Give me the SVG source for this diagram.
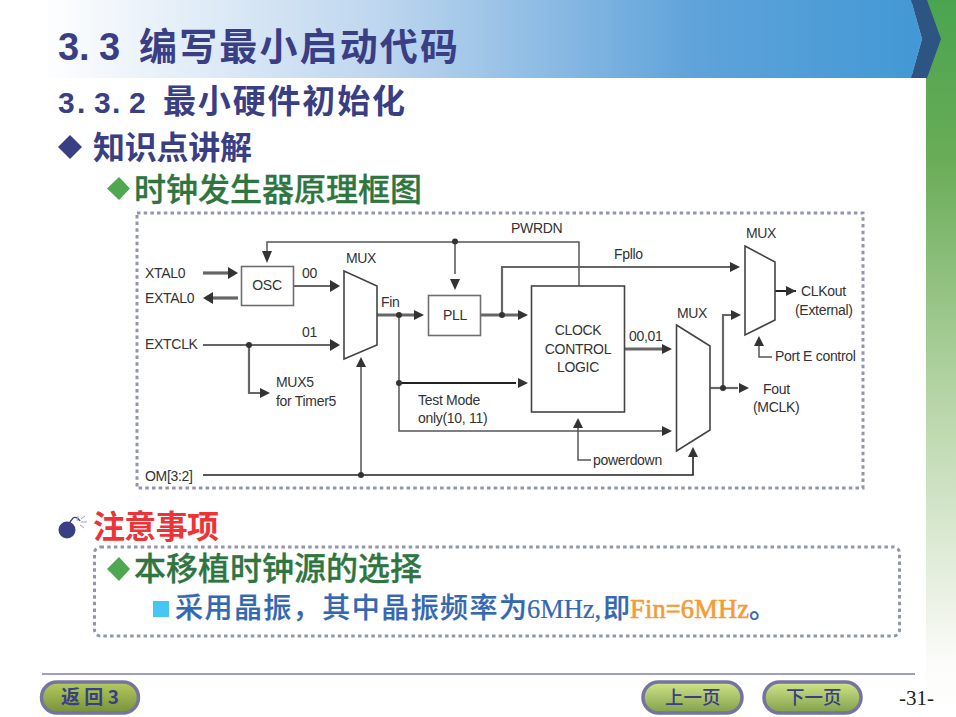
<svg xmlns="http://www.w3.org/2000/svg" width="956" height="717" viewBox="0 0 956 717">
<style>
.cjk{font-family:"Noto Sans CJK SC","Noto Sans",sans-serif;font-weight:700}
.med{font-weight:500}
.num{font-family:"Liberation Sans",Arial,sans-serif;font-weight:700}
.mono{font-family:"Liberation Serif","Times New Roman",serif;font-size:26.500px;stroke-width:.6px}
.navy{fill:#3a3f85}.green{fill:#2f7540;stroke:#2f7540;stroke-width:.3px}.red{fill:#ee3338}.blue{fill:#3468b0;stroke:#3468b0;stroke-width:.2px}.orange{fill:#f59a35;stroke:#f59a35}
.lbl{font-family:"Liberation Sans",Arial,sans-serif;font-size:14px;fill:#333;letter-spacing:-.3px}
.box{fill:#fff;stroke:#6e6e6e;stroke-width:1.6}
.thin{fill:none;stroke:#555;stroke-width:1.5}
.mid{fill:none;stroke:#666;stroke-width:2.2}
.thick{fill:none;stroke:#666;stroke-width:3.2}
.blk{fill:none;stroke:#222;stroke-width:2}
.ah{fill:#333}.dot{fill:#333}
.btn{stroke:#74749f;stroke-width:3.5}
.dash{fill:none;stroke:#9196ae;stroke-width:3;stroke-dasharray:3.5 3.2}
</style>
<defs>
<linearGradient id="banner" x1="0" x2="1" y1="0" y2="0"><stop offset="0" stop-color="#fff"/><stop offset=".4" stop-color="#bcd5ee"/><stop offset=".75" stop-color="#5fa3da"/><stop offset="1" stop-color="#4399d5"/></linearGradient>
<linearGradient id="band" x1="0" x2="0" y1="0" y2="1"><stop offset="0" stop-color="#4aa44f"/><stop offset=".22" stop-color="#69ac57"/><stop offset=".55" stop-color="#b5d4a5"/><stop offset=".92" stop-color="#fbfbf8"/><stop offset="1" stop-color="#fff"/></linearGradient>
<linearGradient id="btn1" x1="0" x2="0" y1="0" y2="1"><stop offset="0" stop-color="#b6cb5e"/><stop offset="1" stop-color="#76913a"/></linearGradient>
<linearGradient id="btn2" x1="0" x2="0" y1="0" y2="1"><stop offset="0" stop-color="#d2e58a"/><stop offset="1" stop-color="#80a04a"/></linearGradient>
</defs>
<rect width="956" height="717" fill="#fff"/>
<rect x="926" y="0" width="30" height="717" fill="url(#band)"/>
<rect x="40" y="0" width="872" height="78" fill="url(#banner)"/>
<polygon points="911,0 922,39 911,78" fill="#4399d5"/>
<polygon points="911,0 922,39 911,78 927,78 941,39 927,0" fill="#2c5583"/>

<g id="headings">
<text class="num navy" x="58 79 99" y="60" font-size="38">3.3</text>
<text class="cjk navy" x="139" y="60" font-size="38" textLength="319">编写最小启动代码</text>
<text class="num navy" x="58 77 94 112 129" y="113" font-size="30">3.3.2</text>
<text class="cjk navy" x="163" y="113" font-size="33" textLength="242">最小硬件初始化</text>
<polygon class="navy" points="70,135 82,147 70,159 58,147"/>
<text class="cjk navy" x="93" y="159" font-size="32" textLength="159">知识点讲解</text>
<polygon fill="#4fa74f" points="119,177 130,188.500 119,200 107,188.500"/>
<text class="cjk med green" x="134" y="201" font-size="32" textLength="288">时钟发生器原理框图</text>
</g>

<rect x="137" y="213" width="726" height="275" class="dash"/>

<g id="connectors">
<path class="thin" d="M579 286V242H267V254"/>
<path class="thin" d="M455 242V274"/>
<path class="thick" d="M203 273H228"/>
<path class="thick" d="M238 298H213"/>
<path class="mid" d="M293 286H332"/>
<path class="mid" d="M203 345H332"/>
<path class="mid" d="M249 345V393H262"/>
<path class="thick" d="M377 315H416"/>
<path class="thin" d="M399 315V431H662"/>
<path class="blk" d="M399 383H516"/>
<path class="thick" d="M481 315H518"/>
<path class="mid" d="M502 315V267H732"/>
<path class="thick" d="M625 349H664"/>
<path class="mid" d="M710 388H738"/>
<path class="mid" d="M723 388V315H734"/>
<path class="blk" d="M775 291H796"/>
<path class="thin" d="M759 346V357H772"/>
<path class="thin" d="M578 428V460H591"/>
<path class="blk" d="M203 475H693V456" style="stroke-width:1.6"/>
<path class="thin" d="M361 475V367"/>
<polygon class="ah" points="238,273 228,267 228,279"/>
<polygon class="ah" points="203,298 213,292 213,304"/>
<polygon class="ah" points="267,263 262,251 272,251"/>
<polygon class="ah" points="455,290 450,279 460,279"/>
<polygon class="ah" points="340,286 330,280 330,292"/>
<polygon class="ah" points="340,345 330,339 330,351"/>
<polygon class="ah" points="270,393 260,388 260,398"/>
<polygon class="ah" points="424,315 414,310 414,320"/>
<polygon class="ah" points="528,315 518,310 518,320"/>
<polygon class="ah" points="528,383 518,378 518,388"/>
<polygon class="ah" points="740,267 730,262 730,272"/>
<polygon class="ah" points="672,349 662,344 662,354"/>
<polygon class="ah" points="672,431 662,426 662,436"/>
<polygon class="ah" points="741,315 731,310 731,320"/>
<polygon class="ah" points="749,388 739,383 739,393"/>
<polygon class="ah" points="796,291 786,286 786,296"/>
<polygon class="ah" points="759,336 754,346 764,346"/>
<polygon class="ah" points="578,418 573,428 583,428"/>
<polygon class="ah" points="693,447 688,457 698,457"/>
<polygon class="ah" points="361,357 356,367 366,367"/>
<circle class="dot" cx="455" cy="241.500" r="3"/>
<circle class="dot" cx="249" cy="345" r="3"/>
<circle class="dot" cx="399" cy="315" r="3"/>
<circle class="dot" cx="399" cy="383" r="3"/>
<circle class="dot" cx="502" cy="315" r="3"/>
<circle class="dot" cx="723" cy="388" r="3"/>
<circle class="dot" cx="361" cy="475" r="3"/>
</g>

<g id="osc"><rect class="box" x="241.500" y="266.500" width="52" height="39"/><text class="lbl" x="267" y="290" text-anchor="middle">OSC</text></g>
<g id="pll"><rect class="box" x="428.500" y="295.500" width="52" height="40"/><text class="lbl" x="455" y="320" text-anchor="middle">PLL</text></g>
<g id="clock-control"><rect class="box" x="531.500" y="286" width="93" height="126" style="stroke:#444"/><text class="lbl" x="578" y="335" text-anchor="middle">CLOCK</text><text class="lbl" x="578" y="354" text-anchor="middle">CONTROL</text><text class="lbl" x="578" y="372" text-anchor="middle">LOGIC</text></g>
<g id="mux1"><polygon class="box" points="344,271 377,286 377,345 344,359" style="stroke:#444"/><text class="lbl" x="361" y="263" text-anchor="middle">MUX</text></g>
<g id="mux2"><polygon class="box" points="676.500,325 710,346 710,430 676.500,451" style="stroke:#444"/><text class="lbl" x="692" y="318" text-anchor="middle">MUX</text></g>
<g id="mux3"><polygon class="box" points="745,246 775,262 775,320 745,335" style="stroke:#444"/><text class="lbl" x="761" y="238" text-anchor="middle">MUX</text></g>

<g id="labels">
<text class="lbl" x="145" y="278">XTAL0</text>
<text class="lbl" x="145" y="303">EXTAL0</text>
<text class="lbl" x="145" y="349">EXTCLK</text>
<text class="lbl" x="145" y="481">OM[3:2]</text>
<text class="lbl" x="302" y="278">00</text>
<text class="lbl" x="302" y="337">01</text>
<text class="lbl" x="381" y="307">Fin</text>
<text class="lbl" x="276" y="387">MUX5</text>
<text class="lbl" x="276" y="406">for Timer5</text>
<text class="lbl" x="418" y="405">Test Mode</text>
<text class="lbl" x="418" y="423">only(10, 11)</text>
<text class="lbl" x="511" y="233">PWRDN</text>
<text class="lbl" x="614" y="259">Fpllo</text>
<text class="lbl" x="629" y="341">00,01</text>
<text class="lbl" x="593" y="465">powerdown</text>
<text class="lbl" x="801" y="296">CLKout</text>
<text class="lbl" x="795" y="315">(External)</text>
<text class="lbl" x="775" y="361">Port E control</text>
<text class="lbl" x="763" y="394">Fout</text>
<text class="lbl" x="753" y="412">(MCLK)</text>
</g>

<g id="bomb">
<circle cx="67" cy="530" r="8.500" fill="#3a3f85"/>
<path d="M70 522L73 518Q77 516 80 521" fill="none" stroke="#3a3f85" stroke-width="1.300"/>
<path d="M81 519L85 516M81 522H87M80 525L84 528M78 516L77 521" fill="none" stroke="#9da0c4" stroke-width="1"/>
</g>
<text class="cjk red" x="93" y="538" font-size="32" textLength="126">注意事项</text>
<rect x="94.500" y="547" width="805" height="89" rx="6" class="dash"/>
<polygon fill="#4fa74f" points="119,557 130,569 119,581 107,569"/>
<text class="cjk med green" x="134" y="580" font-size="32" textLength="288">本移植时钟源的选择</text>
<rect x="153" y="601" width="16" height="16" fill="#46c6f4"/>
<text class="cjk med blue" x="175" y="618" font-size="28" textLength="352">采用晶振，其中晶振频率为</text>
<text class="mono blue" x="527" y="618" textLength="74">6MHz,</text>
<text class="cjk med blue" x="603" y="618" font-size="27">即</text>
<text class="mono orange" x="630" y="618" textLength="119">Fin=6MHz</text>
<text class="cjk med blue" x="749" y="618" font-size="27">。</text>

<path d="M42 674H915" stroke="#3a3f85" stroke-width="1.200"/>
<g id="btn-back"><rect class="btn" x="41.500" y="682" width="97" height="31" rx="15.500" fill="url(#btn1)"/><text class="cjk navy" x="61" y="704" font-size="19" xml:space="preserve">返 回 3</text></g>
<g id="btn-prev"><rect class="btn" x="643" y="682" width="99" height="31" rx="15.500" fill="url(#btn2)"/><text class="cjk navy" x="665" y="704" font-size="18.500" style="font-weight:500">上一页</text></g>
<g id="btn-next"><rect class="btn" x="764" y="682" width="97" height="31" rx="15.500" fill="url(#btn2)"/><text class="cjk navy" x="786" y="704" font-size="18.500" style="font-weight:500">下一页</text></g>
<text x="899" y="705" font-size="21" fill="#222" style="font-family:'Liberation Serif',serif">-31-</text>
</svg>
